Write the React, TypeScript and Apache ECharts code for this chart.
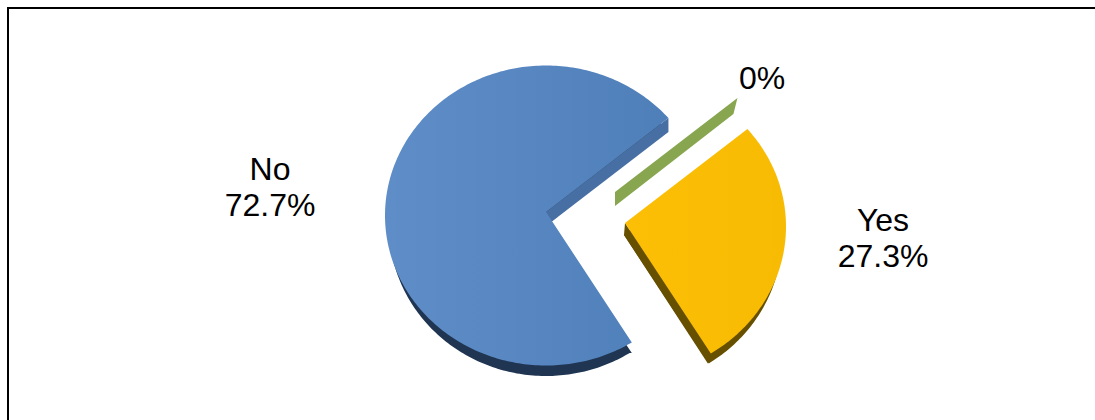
import React, { useEffect, useRef } from "react";
import * as echarts from "echarts";

// Shares of answers, clockwise from the exploded wedge boundary.
const categories = ["", "Yes", "No"];
const shares = [0, 27.3, 72.7];
const shareLabels = ["0%", "27.3%", "72.7%"];

const WIDTH = 1095;
const HEIGHT = 420;
const START_ANGLE = 49.5;
const TOTAL = shares.reduce((a, b) => a + b, 0);

// Tilted disc: face ellipse, with the apex sitting a little above its centre.
// The underside is slightly narrower, so the rim fades out towards the sides.
const DISC = { cx: 546, cy: 215.5, rx: 161, ry: 150, apexLift: 3.5, undersideRx: 157 };

// Per-wedge look: explosion offset, extrusion and colours.
const LOOKS = [
  { dx: 69, dy: -20, rimDrop: 16, apexDrop: 14, apexShift: 0, cutShift: -4, cutDrop: 16, rim: "#5f7a36", wall: "#87a64f", from: "#87a64f", to: "#87a64f", labelX: 762, labelY: 78 },
  { dx: 79, dy: 11, rimDrop: 10, apexDrop: 12, apexShift: -1, cutShift: -3, cutDrop: 10, rim: "#665000", wall: "#665000", from: "#fcbf06", to: "#f8bb03", labelX: 883, labelY: 238 },
  { dx: 0, dy: 0, rimDrop: 10.5, apexDrop: 14, apexShift: 0, cutShift: 0, cutDrop: 14, rim: "#1f3552", wall: "#476fa3", from: "#5f8dc8", to: "#4f7fb9", labelX: 270, labelY: 187 },
];

const toRad = (d: number) => (d * Math.PI) / 180;

function renderWedge(params: any, api: any) {
  const i = params.dataIndex;
  const look = LOOKS[i];
  const before = shares.slice(0, i).reduce((a, b) => a + b, 0);
  const a0 = START_ANGLE + (before / TOTAL) * 360;
  const a1 = a0 + (api.value(0) / TOTAL) * 360;

  const cx = DISC.cx + look.dx;
  const cy = DISC.cy + look.dy;
  const apex = [cx, cy - DISC.apexLift];
  const apexLow = [apex[0] + look.apexShift, apex[1] + look.apexDrop];
  const rimAt = (deg: number) => [
    cx + DISC.rx * Math.sin(toRad(deg)),
    cy - DISC.ry * Math.cos(toRad(deg)),
  ];
  const rimLowAt = (deg: number) => [
    cx + DISC.undersideRx * Math.sin(toRad(deg)),
    cy + look.rimDrop - DISC.ry * Math.cos(toRad(deg)),
  ];

  const steps = Math.max(2, Math.ceil(a1 - a0));
  const angles: number[] = [];
  for (let s = 0; s <= steps; s++) angles.push(a0 + ((a1 - a0) * s) / steps);

  const children: any[] = [];

  if (a1 > a0) {
    const startCorner = [rimAt(a0)[0] + look.cutShift, rimLowAt(a0)[1]];
    children.push({
      type: "polygon",
      shape: { points: [apexLow, startCorner, ...angles.map(rimLowAt)] },
      style: { fill: look.rim },
    });
  }

  // Radial cut faces are only seen when they turn towards the viewer.
  const cuts = [
    { deg: a0, seen: -Math.sin(toRad(a0)) > 0 },
    { deg: a1, seen: Math.sin(toRad(a1)) > 0 },
  ];
  cuts.forEach(({ deg, seen }) => {
    if (!seen) return;
    const rim = rimAt(deg);
    const corner = [rim[0] + look.cutShift, rim[1] + look.cutDrop];
    children.push({
      type: "polygon",
      shape: { points: [apex, rim, corner, apexLow] },
      style: { fill: look.wall },
    });
  });

  if (a1 > a0) {
    children.push({
      type: "polygon",
      shape: { points: [apex, ...angles.map(rimAt)] },
      style: {
        fill: new echarts.graphic.LinearGradient(0, 0, 1, 0, [
          { offset: 0, color: look.from },
          { offset: 1, color: look.to },
        ]),
      },
    });
  }

  const name = categories[i];
  children.push({
    type: "text",
    x: look.labelX,
    y: look.labelY,
    style: {
      text: name ? `${name}\n${shareLabels[i]}` : shareLabels[i],
      fill: "#000000",
      font: '32px "Liberation Sans", Arial, sans-serif',
      lineHeight: 36,
      align: "center",
      verticalAlign: "middle",
    },
  });

  return { type: "group", children };
}

export default function App() {
  const ref = useRef<HTMLDivElement>(null);

  useEffect(() => {
    document.body.style.margin = "0";
    const chart = echarts.init(ref.current!, undefined, { renderer: "svg" });
    chart.setOption({
      animation: false,
      backgroundColor: "#ffffff",
      graphic: [
        {
          type: "rect",
          shape: { x: 8, y: 8, width: WIDTH + 40, height: HEIGHT + 40 },
          style: { fill: "none", stroke: "#000000", lineWidth: 2 },
          silent: true,
        },
      ],
      series: [
        {
          type: "custom",
          coordinateSystem: "none",
          silent: true,
          data: shares.map((v) => [v]),
          renderItem: renderWedge,
        },
      ],
    });
    return () => chart.dispose();
  }, []);

  return <div ref={ref} style={{ width: WIDTH, height: HEIGHT }} />;
}
